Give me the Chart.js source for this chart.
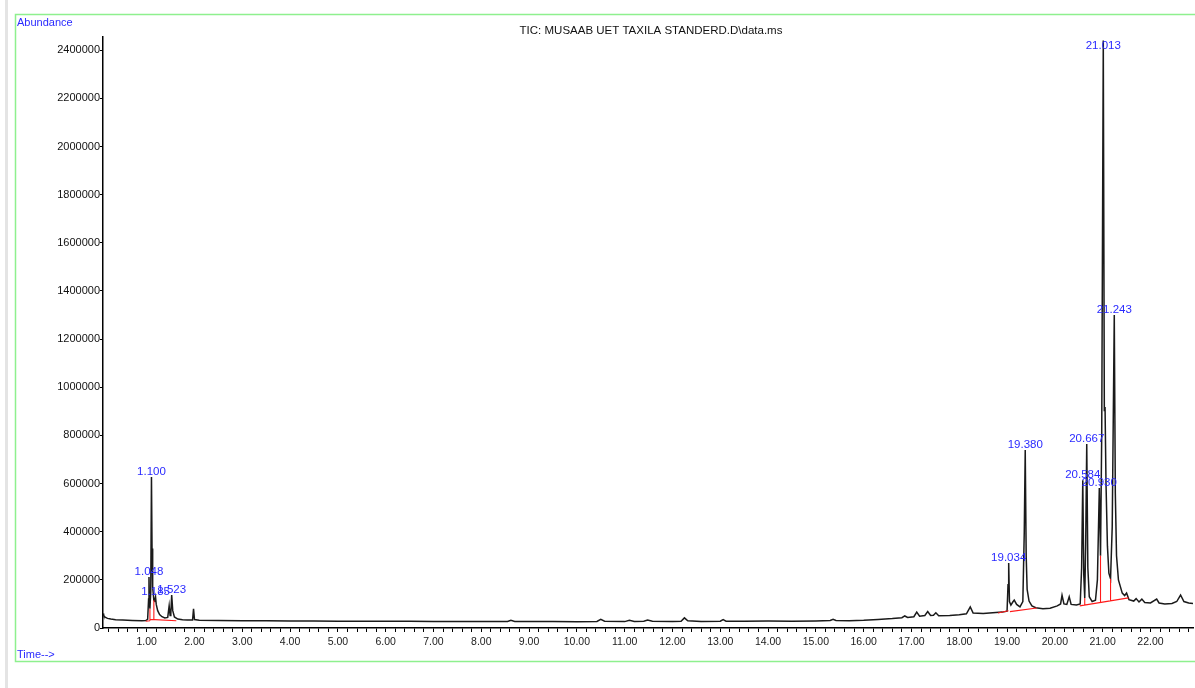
<!DOCTYPE html>
<html>
<head>
<meta charset="utf-8">
<title>TIC: MUSAAB UET TAXILA STANDERD.D\data.ms</title>
<script src="https://cdn.jsdelivr.net/npm/chart.js@4.4.1/dist/chart.umd.min.js"></script>
<style>
  html, body { margin: 0; padding: 0; background: #ffffff; }
  canvas { display: block; }
</style>
</head>
<body>
<canvas id="tic" width="1195" height="688"></canvas>
<script>
// Total ion chromatogram: retention time (min) and abundance (counts)
const ticTime = [
  0.086, 0.10, 0.13, 0.18, 0.25, 0.35, 0.50, 0.70, 0.90, 0.98,
  1.02, 1.040, 1.048, 1.058, 1.068, 1.085, 1.100, 1.112, 1.125, 1.150,
  1.165, 1.185, 1.200, 1.230, 1.270, 1.320, 1.380, 1.440, 1.470, 1.490,
  1.505, 1.523, 1.545, 1.580, 1.650, 1.750, 1.850, 1.960, 1.980, 2.000,
  2.10, 2.50, 3.00, 3.50, 4.00, 4.50, 5.00, 5.50, 6.00, 6.50,
  7.00, 7.50, 8.00, 8.55, 8.62, 8.70, 9.00, 9.50, 10.00, 10.42,
  10.50, 10.58, 11.00, 11.10, 11.20, 11.40, 11.48, 11.58, 12.00, 12.18,
  12.25, 12.32, 12.60, 13.00, 13.06, 13.12, 13.50, 14.00, 14.50, 15.00,
  15.30, 15.36, 15.42, 15.70, 16.00, 16.30, 16.60, 16.80, 16.86, 16.92,
  17.05, 17.11, 17.17, 17.28, 17.34, 17.40, 17.46, 17.51, 17.57, 17.80,
  18.00, 18.15, 18.23, 18.29, 18.50, 18.70, 18.90, 19.00, 19.020, 19.034,
  19.050, 19.080, 19.120, 19.150, 19.200, 19.270, 19.330, 19.360, 19.380, 19.400,
  19.420, 19.460, 19.520, 19.600, 19.750, 19.900, 20.050, 20.120, 20.150, 20.190,
  20.250, 20.300, 20.340, 20.450, 20.530, 20.560, 20.584, 20.605, 20.625, 20.645,
  20.667, 20.690, 20.720, 20.780, 20.850, 20.890, 20.930, 20.955, 20.980, 21.013,
  21.035, 21.050, 21.070, 21.100, 21.130, 21.165, 21.200, 21.243, 21.265, 21.290,
  21.330, 21.410, 21.460, 21.500, 21.550, 21.650, 21.700, 21.760, 21.820, 21.880,
  22.000, 22.130, 22.180, 22.300, 22.450, 22.550, 22.630, 22.700, 22.800, 22.890
];
const ticAbundance = [
  60000, 52000, 45000, 40000, 37000, 34500, 33000, 31500, 30500, 31000,
  36000, 120000, 212000, 100000, 80000, 150000, 627000, 330000, 170000, 115000,
  112000, 129000, 98000, 72000, 56000, 47000, 42000, 44000, 92000, 52000,
  60000, 137000, 72000, 46000, 37000, 34000, 33000, 33000, 80000, 35000,
  32000, 31000, 30000, 30000, 29000, 29500, 28500, 28500, 28000, 28000,
  27500, 27500, 27000, 27000, 32000, 27500, 27000, 26500, 26000, 27000,
  36000, 28000, 26500, 32000, 27000, 28000, 33000, 28000, 26500, 28000,
  42000, 30000, 27500, 28000, 35000, 28500, 28500, 29000, 28500, 29500,
  31000, 36000, 31000, 30500, 32000, 35000, 39000, 43000, 50000, 44000,
  47000, 66000, 49000, 52000, 68000, 52000, 53000, 63000, 51000, 52000,
  55000, 59000, 88000, 62000, 60000, 63000, 66000, 70000, 180000, 270000,
  110000, 95000, 108000, 116000, 98000, 88000, 110000, 400000, 739000, 300000,
  160000, 112000, 92000, 84000, 80000, 82000, 92000, 100000, 136000, 100000,
  98000, 130000, 98000, 96000, 100000, 250000, 614000, 220000, 125000, 350000,
  764000, 250000, 130000, 110000, 115000, 200000, 581000, 300000, 800000, 2440000,
  900000, 918000, 600000, 340000, 228000, 205000, 420000, 1300000, 560000, 300000,
  200000, 145000, 135000, 145000, 118000, 112000, 122000, 108000, 120000, 106000,
  104000, 120000, 104000, 100000, 102000, 110000, 137000, 110000, 104000, 102000
];

// Labelled peaks: retention time and apex abundance
const peakTimes   = [1.048, 1.100, 1.185, 1.523, 19.034, 19.380, 20.584, 20.667, 20.930, 21.013, 21.243];
const peakHeights = [212000, 627000, 129000, 137000, 270000, 739000, 614000, 764000, 581000, 2440000, 1300000];

// Integration baselines [t1, a1, t2, a2] and drop lines [t, aLow, aHigh]
const baselineSegments = [
  [0.98, 28000, 1.07, 30000],
  [1.07, 36000, 1.62, 30000],
  [18.81, 62000, 19.03, 72000],
  [19.06, 68000, 19.62, 83000],
  [20.52, 92000, 21.54, 125000]
];
const dropLines = [
  [1.068, 30000, 80000],
  [1.150, 35000, 115000],
  [20.625, 95000, 125000],
  [20.955, 106000, 300000],
  [21.165, 113000, 205000]
];

// Axis ticks
const timeTickStep = 0.2;
const abundanceTicks = [0, 200000, 400000, 600000, 800000, 1000000, 1200000,
                        1400000, 1600000, 1800000, 2000000, 2200000, 2400000];

const chartTitle = 'TIC: MUSAAB UET TAXILA STANDERD.D\\data.ms';
const yAxisName = 'Abundance';
const xAxisName = 'Time-->';

const FONT = "'Liberation Sans', Arial, sans-serif";
Chart.defaults.font.family = FONT;

const tracePoints = ticTime.map((t, i) => ({ x: t, y: ticAbundance[i] }));
const basePoints = [];
baselineSegments.forEach(s => {
  basePoints.push({ x: s[0], y: s[1] }, { x: s[2], y: s[3] }, { x: s[2], y: null });
});
dropLines.forEach(d => {
  basePoints.push({ x: d[0], y: d[1] }, { x: d[0], y: d[2] }, { x: d[0], y: null });
});

const frame = {
  id: 'frame',
  beforeDraw(chart) {
    const c = chart.ctx;
    c.save();
    c.fillStyle = '#ffffff';
    c.fillRect(0, 0, chart.width, chart.height);
    // window edge
    c.fillStyle = '#e4e4e4';
    c.fillRect(5, 0, 3, chart.height);
    // plot panel border (right side runs past the canvas)
    c.strokeStyle = '#8ef08e';
    c.lineWidth = 1.5;
    c.strokeRect(15.5, 14.5, 1190, 647);
    c.restore();
  },
  afterDraw(chart) {
    const c = chart.ctx;
    const xs = chart.scales.x, ys = chart.scales.y;
    const area = chart.chartArea;
    c.save();
    c.textBaseline = 'alphabetic';
    c.fillStyle = '#2a2aff';
    c.font = '11px ' + FONT;
    c.textAlign = 'left';
    c.fillText(yAxisName, 17, 26);
    c.fillText(xAxisName, 17, 658);
    c.fillStyle = '#111111';
    c.textAlign = 'center';
    c.font = '11.5px ' + FONT;
    c.fillText(chartTitle, 651, 34);
    // peak retention-time labels
    c.fillStyle = '#2a2aff';
    c.font = '11.5px ' + FONT;
    peakTimes.forEach((t, i) => {
      const px = xs.getPixelForValue(t);
      let base = ys.getPixelForValue(peakHeights[i]) - 2;
      if (base - 10 < area.top + 2) base = area.top + 12;
      c.fillText(t.toFixed(3), px, base);
    });
    c.restore();
  }
};

new Chart(document.getElementById('tic'), {
  type: 'line',
  data: {
    datasets: [
      {
        data: basePoints,
        borderColor: '#ff1a1a',
        borderWidth: 1.1,
        pointRadius: 0,
        spanGaps: false,
        tension: 0,
        order: 0
      },
      {
        data: tracePoints,
        borderColor: '#1a1a1a',
        borderWidth: 1.5,
        pointRadius: 0,
        tension: 0,
        order: 1
      }
    ]
  },
  options: {
    responsive: false,
    animation: false,
    events: [],
    layout: { padding: { left: 0, top: 37, right: 2, bottom: 0 } },
    plugins: { legend: { display: false }, tooltip: { enabled: false }, title: { display: false } },
    scales: {
      x: {
        type: 'linear',
        min: 0.086,
        max: 22.89,
        afterFit(s) { s.height = 60; },
        border: { color: '#000000', width: 1.5 },
        grid: { drawOnChartArea: false, drawTicks: true, tickLength: 4, color: '#000000', tickWidth: 1 },
        ticks: {
          stepSize: timeTickStep,
          includeBounds: false,
          autoSkip: false,
          maxRotation: 0,
          minRotation: 0,
          padding: 4,
          color: '#1a1a1a',
          font: { size: 10.5, family: FONT },
          callback(v) {
            return Math.abs(v - Math.round(v)) < 1e-6 ? Number(v).toFixed(2) : '';
          }
        }
      },
      y: {
        min: 0,
        max: 2455000,
        afterFit(s) { s.width = 103; },
        afterBuildTicks(s) { s.ticks = abundanceTicks.map(v => ({ value: v })); },
        border: { color: '#000000', width: 1.5 },
        grid: { drawOnChartArea: false, drawTicks: true, tickLength: 3, color: '#000000', tickWidth: 1 },
        ticks: {
          padding: 0,
          color: '#111111',
          font: { size: 11, family: FONT },
          callback(v) { return String(v); }
        }
      }
    }
  },
  plugins: [frame]
});
</script>
</body>
</html>
